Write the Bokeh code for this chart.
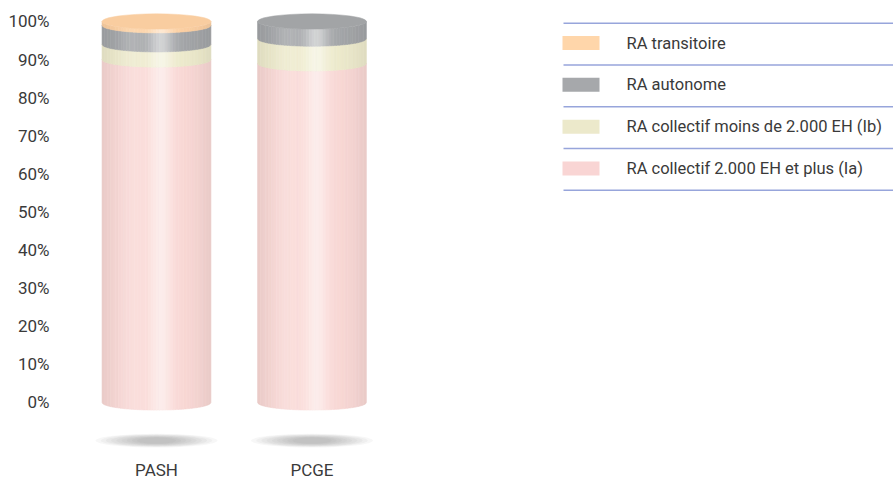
import numpy as np
from bokeh.plotting import figure
from bokeh.layouts import row
from bokeh.models import Range1d, FixedTicker
from bokeh.core.properties import value
from bokeh.embed import file_html
from bokeh.resources import INLINE

# ---------------- data ----------------
categories = ["PASH", "PCGE"]
series_names = ["RA collectif 2.000 EH et plus (Ia)",
                "RA collectif moins de 2.000 EH (Ib)",
                "RA autonome",
                "RA transitoire"]
ra_ia = [90.0, 89.0]
ra_ib = [4.0, 6.5]
ra_autonome = [5.0, 4.5]
ra_transitoire = [1.0, 0.0]
y_ticks = [0, 10, 20, 30, 40, 50, 60, 70, 80, 90, 100]
y_tick_labels = ["0%", "10%", "20%", "30%", "40%", "50%", "60%", "70%", "80%", "90%", "100%"]

# ---------------- style ----------------
series_colors = ["#FAD9D6", "#EEEBCD", "#A4A6A9", "#FDD0A2"]
legend_colors = ["#F9D5D4", "#ECE9CB", "#A6A8AB", "#FFD6AA"]
FONT = "Roboto"
TXT = "#3a3a3a"
CYL_W = 0.70     # cylinder width (x units)
RY = 2.0         # ellipse half height (y units)
NS = 40


def hex2rgb(h):
    return np.array([int(h[i:i + 2], 16) for i in (1, 3, 5)], float)


def rgb2hex(c):
    c = np.clip(c, 0, 255)
    return "#%02x%02x%02x" % tuple(int(round(v)) for v in c)


def shade(hexc, t):
    c = hex2rgb(hexc)
    light = 0.5 * np.exp(-((t - 0.08) / 0.22) ** 2) + 0.16 * np.exp(-((t + 0.45) / 0.22) ** 2)
    dark = 0.07 * abs(t) ** 3
    c = c + (255 - c) * min(light, 0.9)
    c = c * (1 - dark)
    return rgb2hex(c)


p = figure(width=543, height=482, output_backend="svg", toolbar_location=None,
           x_range=Range1d(-0.6045, 2.489), y_range=Range1d(-12.6, 105.5),
           min_border_left=62, min_border_right=0, min_border_top=0, min_border_bottom=0,
           background_fill_color="white", border_fill_color="white")
p.outline_line_color = None
p.grid.visible = False

# cylinders
values = [ra_ia, ra_ib, ra_autonome, ra_transitoire]
for i, cat in enumerate(categories):
    # shadow
    for k in range(9):
        f = 1 - k * 0.085
        p.ellipse(x=[i], y=[-10.0], width=[CYL_W * 1.12 * f], height=[3.6 * (1 - k * 0.07)],
                  fill_color="#6c7074", fill_alpha=0.055, line_color=None)
    bottom = 0.0
    top_color = None
    for s in range(len(values)):
        v = values[s][i]
        if v <= 0:
            continue
        top = bottom + v
        xs, ys, cs = [], [], []
        for k in range(NS):
            t0 = -1 + 2 * k / NS
            t1 = -1 + 2 * (k + 1) / NS
            ts = np.linspace(t0, t1, 5)
            xa = i + ts * CYL_W / 2
            drop = RY * np.sqrt(np.clip(1 - ts ** 2, 0, 1))
            xs.append(list(xa) + list(xa[::-1]))
            ys.append(list(bottom - drop) + list((top - drop)[::-1]))
            cs.append(shade(series_colors[s], (t0 + t1) / 2))
        p.patches(xs, ys, fill_color=cs, line_color=cs, line_width=0.6)
        bottom = top
        top_color = series_colors[s]
    # top face
    tc = hex2rgb(top_color) * 0.985
    p.ellipse(x=[i], y=[bottom], width=[CYL_W], height=[2 * RY],
              fill_color=rgb2hex(tc), line_color=rgb2hex(tc), line_width=0.5)

p.yaxis.ticker = FixedTicker(ticks=y_ticks)
p.yaxis.major_label_overrides = {t: l for t, l in zip(y_ticks, y_tick_labels)}
p.xaxis.ticker = FixedTicker(ticks=list(range(len(categories))))
p.xaxis.major_label_overrides = {i: c for i, c in enumerate(categories)}
for ax in (p.xaxis[0], p.yaxis[0]):
    ax.axis_line_color = None
    ax.major_tick_line_color = None
    ax.minor_tick_line_color = None
    ax.major_label_text_font = FONT
    ax.major_label_text_font_size = "17px"
    ax.major_label_text_color = TXT
p.yaxis.major_label_standoff = 7
p.xaxis.major_label_standoff = 3

# ---------------- legend panel ----------------
L = figure(width=350, height=482, output_backend="svg", toolbar_location=None,
           x_range=Range1d(0, 350), y_range=Range1d(482, 0),
           min_border=0, background_fill_color="white", border_fill_color="white")
L.outline_line_color = None
L.axis.visible = False
L.grid.visible = False

order = [3, 2, 1, 0]
line_y0, step = 24.3, 44.75
n = len(order)
L.segment(x0=[20] * (n + 1), x1=[350] * (n + 1),
          y0=[line_y0 + k * step for k in range(n + 1)],
          y1=[line_y0 + k * step for k in range(n + 1)],
          line_color="#97A5DB", line_width=1.5)
cy = [line_y0 + k * step + 21.3 for k in range(n)]
L.rect(x=[37.5] * n, y=cy, width=[37] * n, height=[15] * n,
       fill_color=[legend_colors[s] for s in order], line_color=None)
L.text(x=[83] * n, y=cy, text=[series_names[s] for s in order],
       text_font=value(FONT), text_font_size="16.5px", text_color=TXT,
       text_baseline="middle", text_align="left")

layout = row(p, L)
open("out.html", "w").write(file_html(layout, INLINE))
